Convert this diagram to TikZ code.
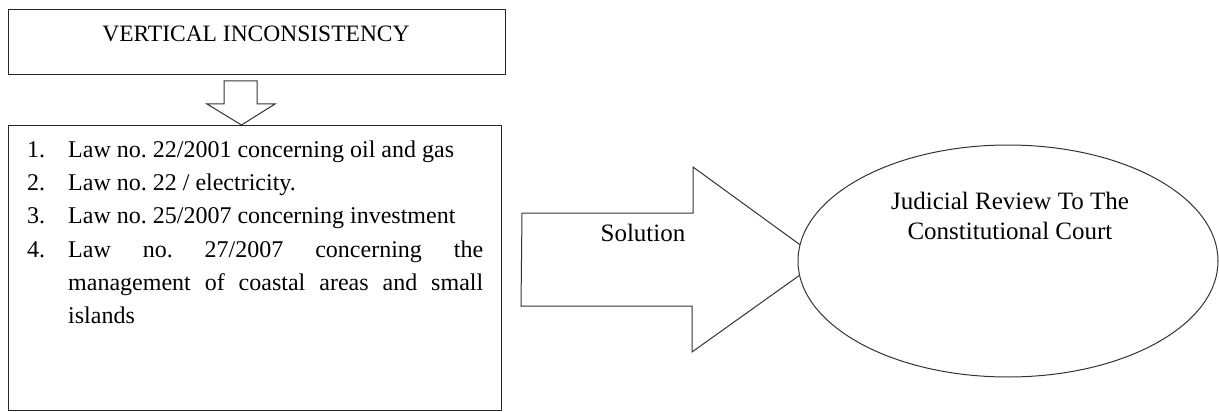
\documentclass[tikz,border=0pt]{standalone}
\usepackage{fontspec}
\setmainfont{Liberation Serif}
\usetikzlibrary{calc,shapes.geometric}
\tikzset{
  box/.style={draw=black!85, line width=1pt, fill=white, inner sep=0pt},
  blockarrow/.style={draw=black!80, line width=1pt, fill=white, line join=miter},
  oval/.style={ellipse, draw=black!80, line width=1pt, fill=white, inner sep=0pt},
  lbl/.style={inner sep=0pt, font=\fontsize{25}{30}\selectfont}
}
\begin{document}
\frenchspacing
\begin{tikzpicture}[x=1pt,y=-1pt]
\useasboundingbox (0,0) rectangle (1219,412);
% top box
\node[box, minimum width=497pt, minimum height=65pt, anchor=north west] (top) at (8,9) {};
\node[lbl, font=\fontsize{23.5}{30}\selectfont, anchor=base] (toptext) at (256,42) {VERTICAL INCONSISTENCY};
% list box
\node[box, minimum width=493pt, minimum height=285pt, anchor=north west] (list) at (8,125) {};
\node[inner sep=0pt, anchor=base west] (items) at (27,157) {\fontsize{24}{33.4}\selectfont\frenchspacing\parbox[t]{456pt}{%
\hangindent=41pt\hangafter=1\noindent\makebox[41pt][l]{1.}Law no. 22/2001 concerning oil and gas\par
\hangindent=41pt\hangafter=1\noindent\makebox[41pt][l]{2.}Law no. 22 / electricity.\par
\hangindent=41pt\hangafter=1\noindent\makebox[41pt][l]{3.}Law no. 25/2007 concerning investment\par
\hangindent=41pt\hangafter=1\noindent\makebox[41pt][l]{4.}Law no. 27/2007 concerning the\linebreak management of coastal areas and small\linebreak islands\par}};
% down block arrow from top box to list box
\draw[blockarrow] ($(top.south west)+(216,6)$) -- ++(33,0) -- ++(0,23) -- ++(18,0)
  -- ($(list.north west)+(233.5,0)$) -- ($(top.south west)+(199,29)$) -- ++(17,0) -- cycle;
% ellipse
\coordinate (ellc) at (1008,261);
% big block arrow from list box to ellipse
\draw[blockarrow] ($(list.north east)+(20,88)$) -- ++(171,0) -- ++(0,-46) -- (821,260)
  -- ++(-129,92) -- ++(0,-46) -- ++(-171,0) -- cycle;
\node[oval, minimum width=420pt, minimum height=232pt] (court) at (ellc) {};
\node[lbl, align=center, anchor=base] (courttext) at (1010,239) {Judicial Review To The\\Constitutional Court};
\node[lbl, anchor=base] (sol) at (643,241) {Solution};
\end{tikzpicture}
\end{document}
